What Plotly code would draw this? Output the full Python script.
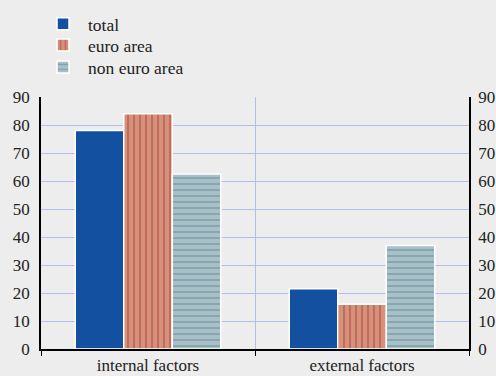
import plotly.graph_objects as go

categories = ["internal factors", "external factors"]
total = [78, 21.5]
euro_area = [84, 16]
non_euro_area = [62.5, 37]
y_ticks = [0, 10, 20, 30, 40, 50, 60, 70, 80, 90]

FONT = "Liberation Serif"
BG = "#ECEDEC"
GRID = "#B4BEEA"

fig = go.Figure()
fig.add_trace(go.Bar(
    x=categories, y=total, name="total", legend="legend",
    marker=dict(color="#1351A0", line=dict(color="white", width=1.5)),
))
fig.add_trace(go.Bar(
    x=categories, y=euro_area, name="euro area", legend="legend2",
    marker=dict(color="#D4917C", line=dict(color="white", width=1.5),
                pattern=dict(shape="|", fgcolor="#B23A30", bgcolor="#D4917C",
                             size=6, solidity=0.3)),
))
fig.add_trace(go.Bar(
    x=categories, y=non_euro_area, name="non euro area", legend="legend3",
    marker=dict(color="#ABBFC7", line=dict(color="white", width=1.5),
                pattern=dict(shape="-", fgcolor="#4F8B9A", bgcolor="#ABBFC7",
                             size=6, solidity=0.3)),
))
# invisible trace for right axis
fig.add_trace(go.Bar(x=categories, y=[0, 0], yaxis="y2", showlegend=False,
                     hoverinfo="skip", marker=dict(color="rgba(0,0,0,0)")))

def leg(yv):
    return dict(x=-0.007, y=yv, xanchor="left", yanchor="middle",
                bgcolor="rgba(0,0,0,0)", font=dict(size=17.5, family=FONT,
                                                   color="#222222"),
                itemwidth=40)

fig.update_layout(
    width=496, height=376,
    margin=dict(l=41, r=27, t=97, b=27, autoexpand=False),
    paper_bgcolor=BG, plot_bgcolor=BG,
    font=dict(family=FONT, size=17, color="#222222"),
    barmode="group", bargap=0.32, bargroupgap=0,
    showlegend=True,
    legend=leg(1.2897),
    legend2=leg(1.2063),
    legend3=leg(1.119),
    xaxis=dict(type="category", tickson="boundaries", ticks="outside",
               ticklen=5, tickcolor="black", tickwidth=1.2,
               showgrid=True, gridcolor=GRID, gridwidth=1,
               showline=True, linecolor="black", linewidth=1.5,
               range=[-0.5, 1.5], automargin=False,
               tickfont=dict(size=17, family=FONT)),
    yaxis=dict(range=[0, 90], tickvals=y_ticks, showgrid=True, gridcolor=GRID,
               gridwidth=1, showline=True, linecolor="black", linewidth=1.5,
               ticks="", zeroline=False, automargin=False,
               ticklabelstandoff=6,
               tickfont=dict(size=17, family=FONT)),
    yaxis2=dict(range=[0, 90], tickvals=y_ticks, overlaying="y", side="right",
                showgrid=False, showline=True, linecolor="black", linewidth=1.5,
                ticks="", zeroline=False, automargin=False,
                ticklabelstandoff=4,
                tickfont=dict(size=17, family=FONT)),
)

fig.write_html("out.html")
